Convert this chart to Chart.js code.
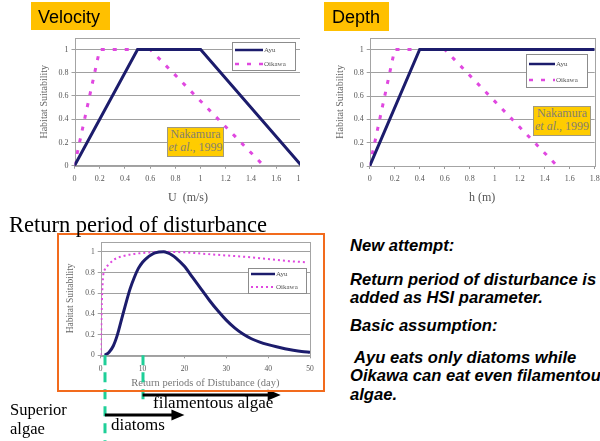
<!DOCTYPE html>
<html>
<head>
<meta charset="utf-8">
<script src="https://cdn.jsdelivr.net/npm/chart.js@4.4.0/dist/chart.umd.min.js"></script>
<style>
  body { margin: 0; width: 600px; height: 441px; overflow: hidden; background: #fff; position: relative; }
  .abs { position: absolute; white-space: pre; line-height: normal; }
  .tag { position: absolute; background: #ffc000; font: 18px "Liberation Sans", Arial, sans-serif; color: #000; }
  .ref { position: absolute; background: #ffcc00; border: 1px solid #a09a80; color: #858070;
         font: 12px "Liberation Serif", "Times New Roman", serif; text-align: center; line-height: 13px; }
  .serif { font-family: "Liberation Serif", "Times New Roman", serif; color: #000; }
  .note { font: italic bold 16.6px "Liberation Sans", Arial, sans-serif; color: #000; left: 350px; }
  #velWrap { position: absolute; left: 0; top: 30px; width: 300px; height: 180px; overflow: hidden; }
  #velChart { position: absolute; left: 0; top: 0; }
  #depChart { position: absolute; left: 300px; top: 30px; }
  #rpChart { position: absolute; left: 0; top: 234px; }
  #rpFrame { position: absolute; left: 57px; top: 233px; width: 264px; height: 155px; border: 2.5px solid #f26b1d; }
</style>
</head>
<body>

<div id="velWrap"><canvas id="velChart" width="320" height="180"></canvas></div>
<canvas id="depChart" width="320" height="180"></canvas>
<canvas id="rpChart" width="330" height="207"></canvas>
<div id="rpFrame"></div>

<div class="tag" style="left:31px;top:2px;width:79px;height:28px;"><span style="position:absolute;left:7px;top:5px;">Velocity</span></div>
<div class="tag" style="left:324px;top:2px;width:65px;height:29px;"><span style="position:absolute;left:8px;top:5px;">Depth</span></div>

<div class="ref" style="left:167px;top:127px;width:55px;height:28px;">Nakamura<br><i>et al</i>., 1999</div>
<div class="ref" style="left:533px;top:106px;width:56px;height:28px;">Nakamura<br><i>et al</i>., 1999</div>

<div class="abs serif" style="left:9px;top:212px;font-size:22.5px;">Return period of disturbance</div>
<div class="abs serif" style="left:153px;top:393px;font-size:17px;">filamentous algae</div>
<div class="abs serif" style="left:111px;top:415px;font-size:17px;">diatoms</div>
<div class="abs serif" style="left:10px;top:400px;font-size:16.5px;">Superior</div>
<div class="abs serif" style="left:10px;top:419px;font-size:16.5px;">algae</div>

<div class="abs note" style="top:236px;">New attempt:</div>
<div class="abs note" style="top:270px;">Return period of disturbance is</div>
<div class="abs note" style="top:288px;">added as HSI parameter.</div>
<div class="abs note" style="top:316px;">Basic assumption:</div>
<div class="abs note" style="top:348px;"> Ayu eats only diatoms while</div>
<div class="abs note" style="top:366px;">Oikawa can eat even filamentous</div>
<div class="abs note" style="top:385px;">algae.</div>

<script>
    // tick values
    const hsiTicks = [0, 0.2, 0.4, 0.6, 0.8, 1];
    const uTicks = [0, 0.2, 0.4, 0.6, 0.8, 1, 1.2, 1.4, 1.6, 1.8];
    const hTicks = [0, 0.2, 0.4, 0.6, 0.8, 1, 1.2, 1.4, 1.6, 1.8];
    const dayTicks = [0, 10, 20, 30, 40, 50];

    // velocity U (m/s) -> suitability
    const velAyuU = [0, 0.5, 1.0, 1.8];
    const velAyuSI = [0, 1, 1, 0];
    const velOikawaU = [0, 0.2, 0.6, 1.5];
    const velOikawaSI = [0, 1, 1, 0];

    // depth h (m) -> suitability
    const depAyuH = [0, 0.4, 1.8];
    const depAyuSI = [0, 1, 1];
    const depOikawaH = [0, 0.2, 0.6, 1.5];
    const depOikawaSI = [0, 1, 1, 0];

    // return period of disturbance (day) -> suitability
    const rpAyuDays = [1, 2, 3, 4, 5, 6, 7, 8, 9, 10, 11, 12, 13, 15, 16, 17, 18,
                       20, 22, 24, 26, 28, 30, 32, 34, 36, 38, 40, 42, 44, 46, 48, 50];
    const rpAyuSI = [0, 0.03, 0.09, 0.2, 0.35, 0.5, 0.64, 0.75, 0.84, 0.9, 0.94, 0.97, 0.99, 1, 0.99, 0.97, 0.94,
                     0.86, 0.75, 0.64, 0.53, 0.43, 0.34, 0.265, 0.205, 0.16, 0.128, 0.103, 0.082, 0.064, 0.049, 0.037, 0.03];
    const rpOikawaDays = [0, 0.1, 0.2, 0.35, 0.6, 1, 2, 3, 5, 8, 12, 15, 20, 25, 30, 35, 40, 45, 49];
    const rpOikawaSI = [0, 0.2, 0.4, 0.6, 0.77, 0.83, 0.88, 0.92, 0.955, 0.98, 0.995, 1, 0.995, 0.98, 0.965, 0.95, 0.93, 0.91, 0.9];

    // algae markers below the return period chart
    const algaeMarkDays = [1, 10];
    const filamentousSpan = [10, 43];
    const diatomSpan = [1, 20];

    const ayuColor = '#1c1c6c';
    const oikawaColor = '#e048e0';
    const serif = '"Liberation Serif", "Times New Roman", serif';

    Chart.defaults.font.family = serif;
    Chart.defaults.animation = false;

    function pairs(xs, ys) {
        return xs.map((x, i) => ({x: x, y: ys[i]}));
    }

    function fixedTicks(list) {
        return function(scale) {
            scale.ticks = list.map(v => ({value: v}));
        };
    }

    function shortNum(v) {
        return String(Math.round(v * 10) / 10);
    }

    // grey border round the plot area and a small boxed legend
    const plotBox = {
        id: 'plotBox',
        beforeDatasetsDraw(chart) {
            const {ctx, chartArea: a} = chart;
            ctx.save();
            ctx.strokeStyle = '#a4a4a4';
            ctx.lineWidth = 1;
            ctx.strokeRect(Math.round(a.left) + 0.5, Math.round(a.top) + 0.5, Math.round(a.width), Math.round(a.height));
            ctx.restore();
        },
        afterDatasetsDraw(chart, args, opts) {
            const b = opts.box;
            if (!b) return;
            const ctx = chart.ctx;
            ctx.save();
            ctx.fillStyle = '#fff';
            ctx.fillRect(b.x, b.y, b.w, b.h);
            ctx.strokeStyle = '#8c8c8c';
            ctx.lineWidth = 1;
            ctx.strokeRect(b.x + 0.5, b.y + 0.5, b.w, b.h);
            ctx.font = '7px ' + serif;
            ctx.textBaseline = 'middle';
            chart.data.datasets.forEach((ds, i) => {
                const y = b.y + b.rows[i];
                ctx.strokeStyle = ds.borderColor;
                ctx.lineWidth = Math.min(ds.borderWidth, 2.5);
                ctx.setLineDash(ds.borderDash || []);
                ctx.beginPath();
                ctx.moveTo(b.x + 3, y);
                ctx.lineTo(b.x + 3 + b.sample, y);
                ctx.stroke();
                ctx.setLineDash([]);
                ctx.fillStyle = '#555';
                ctx.fillText(ds.label, b.x + 4 + b.sample, y);
            });
            ctx.restore();
        }
    };

    // green dashed day markers and the two algae arrows
    const algaeMarks = {
        id: 'algaeMarks',
        afterDraw(chart, args, opts) {
            if (!opts || !opts.markLen) return;
            const ctx = chart.ctx;
            const xs = chart.scales.x;
            const base = chart.chartArea.bottom;
            ctx.save();
            ctx.strokeStyle = '#1fcf98';
            ctx.lineWidth = 3;
            ctx.setLineDash([10, 7]);
            algaeMarkDays.forEach((d, i) => {
                const px = Math.round(xs.getPixelForValue(d));
                ctx.beginPath();
                ctx.moveTo(px, base);
                ctx.lineTo(px, base + opts.markLen[i]);
                ctx.stroke();
            });
            ctx.setLineDash([]);
            ctx.fillStyle = '#000';
            ctx.strokeStyle = '#000';
            [filamentousSpan, diatomSpan].forEach((span, i) => {
                const x0 = xs.getPixelForValue(span[0]);
                const x1 = xs.getPixelForValue(span[1]);
                const y = opts.arrowY[i];
                ctx.lineWidth = 3;
                ctx.beginPath();
                ctx.moveTo(x0, y);
                ctx.lineTo(x1 - 10, y);
                ctx.stroke();
                ctx.beginPath();
                ctx.moveTo(x1, y);
                ctx.lineTo(x1 - 13, y - 5.5);
                ctx.lineTo(x1 - 13, y + 5.5);
                ctx.closePath();
                ctx.fill();
            });
            ctx.restore();
        }
    };

    function hsiChart(id, opts) {
        let chartCanvas = document.getElementById(id).getContext('2d');
        return new Chart(chartCanvas, {
            type: 'line',
            data: {
                datasets: [{
                    label: 'Ayu',
                    data: opts.ayu,
                    borderColor: ayuColor,
                    borderWidth: opts.ayuWidth,
                    pointRadius: 0,
                    fill: false,
                    tension: opts.smooth ? 0.4 : 0,
                    cubicInterpolationMode: opts.smooth ? 'monotone' : 'default',
                }, {
                    label: 'Oikawa',
                    data: opts.oikawa,
                    borderColor: oikawaColor,
                    borderWidth: opts.oikawaWidth,
                    borderDash: opts.oikawaDash,
                    borderCapStyle: 'butt',
                    pointRadius: 0,
                    fill: false,
                    tension: opts.smooth ? 0.4 : 0,
                    cubicInterpolationMode: opts.smooth ? 'monotone' : 'default',
                }]
            },
            options: {
                responsive: false,
                devicePixelRatio: 1,
                parsing: false,
                layout: {padding: opts.padding},
                plugins: {
                    legend: {display: false},
                    tooltip: {enabled: false},
                    plotBox: {box: opts.legendBox},
                    algaeMarks: opts.marks || {},
                },
                scales: {
                    x: {
                        type: 'linear',
                        min: opts.xTicks[0],
                        max: opts.xTicks[opts.xTicks.length - 1],
                        afterBuildTicks: fixedTicks(opts.xTicks),
                        afterFit: s => { s.height = opts.xAxisHeight; },
                        grid: {drawOnChartArea: false, drawTicks: true, tickLength: 3, color: '#999'},
                        border: {display: false},
                        ticks: {color: '#555', font: {size: opts.tickSize}, padding: opts.xTickPad,
                                maxRotation: 0, autoSkip: false, callback: shortNum},
                        title: {display: true, text: opts.xTitle, color: opts.xTitleColor,
                                font: {size: opts.xTitleSize}, padding: {top: 0, bottom: opts.xTitlePad}},
                    },
                    y: {
                        min: 0,
                        max: 1.1,
                        afterBuildTicks: fixedTicks(hsiTicks),
                        afterFit: s => { s.width = opts.yAxisWidth; },
                        grid: {color: '#a0a0a0', tickLength: 3},
                        border: {display: false},
                        ticks: {color: '#555', font: {size: opts.tickSize}, padding: 3, callback: shortNum},
                        title: {display: true, text: 'Habitat Suitability', color: '#666',
                                font: {size: opts.yTitleSize}, padding: {top: opts.yTitlePad, bottom: 0}},
                    }
                }
            },
            plugins: [plotBox, algaeMarks]
        });
    }

    try {
        hsiChart('velChart', {
            ayu: pairs(velAyuU, velAyuSI),
            oikawa: pairs(velOikawaU, velOikawaSI),
            ayuWidth: 3, oikawaWidth: 3, oikawaDash: [4, 8],
            xTicks: uTicks, xTitle: 'U  (m/s)', xTitleColor: '#555', xTitleSize: 12,
            padding: {left: 0, right: 18.5, top: 6.6, bottom: 0},
            yAxisWidth: 74.5, xAxisHeight: 44.3, xTickPad: 5, xTitlePad: 5,
            tickSize: 8, yTitleSize: 10, yTitlePad: 38,
            legendBox: {x: 232, y: 12, w: 63, h: 28, rows: [8, 22], sample: 28},
        });
    } catch (error) {
        console.log(`error: ${error.message}`);
    }

    try {
        hsiChart('depChart', {
            ayu: pairs(depAyuH, depAyuSI),
            oikawa: pairs(depOikawaH, depOikawaSI),
            ayuWidth: 3, oikawaWidth: 3, oikawaDash: [4, 8],
            xTicks: hTicks, xTitle: 'h (m)', xTitleColor: '#555', xTitleSize: 12,
            padding: {left: 0, right: 25.3, top: 6.7, bottom: 0},
            yAxisWidth: 69.7, xAxisHeight: 44, xTickPad: 5, xTitlePad: 5,
            tickSize: 8, yTitleSize: 10, yTitlePad: 34,
            legendBox: {x: 226, y: 24, w: 61, h: 33, rows: [10, 26], sample: 26},
        });
    } catch (error) {
        console.log(`error: ${error.message}`);
    }

    try {
        hsiChart('rpChart', {
            ayu: pairs(rpAyuDays, rpAyuSI),
            oikawa: pairs(rpOikawaDays, rpOikawaSI),
            ayuWidth: 3, oikawaWidth: 2, oikawaDash: [2, 3], smooth: true,
            xTicks: dayTicks, xTitle: 'Return periods of Distubance (day)', xTitleColor: '#777', xTitleSize: 10.5,
            padding: {left: 60, right: 20, top: 6.5, bottom: 50.7},
            yAxisWidth: 40.7, xAxisHeight: 35, xTickPad: 6.5, xTitlePad: 1,
            tickSize: 7.5, yTitleSize: 9.5, yTitlePad: 5,
            legendBox: {x: 248, y: 34, w: 58, h: 25, rows: [6, 19], sample: 24},
            marks: {markLen: [90, 45], arrowY: [161, 181]},
        });
    } catch (error) {
        console.log(`error: ${error.message}`);
    }
</script>
</body>
</html>
